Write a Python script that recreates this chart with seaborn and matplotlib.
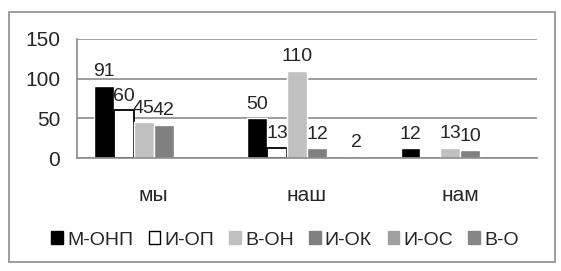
import numpy as np
import pandas as pd
import seaborn as sns
import matplotlib.pyplot as plt
from matplotlib.patches import Patch, Rectangle

categories = ['мы', 'наш', 'нам']
series = ['М-ОНП', 'И-ОП', 'В-ОН', 'И-ОК', 'И-ОС', 'В-О']
m_onp = [91, 50, 12]
i_op = [60, 13, np.nan]
v_on = [45, 110, 13]
i_ok = [42, 12, 10]
i_os = [np.nan, np.nan, np.nan]
v_o = [np.nan, 2, np.nan]

colors = ['#000000', '#ffffff', '#c0c0c0', '#808080', '#a0a0a0', '#868686']

rows = []
for name, vals in zip(series, [m_onp, i_op, v_on, i_ok, i_os, v_o]):
    for cat, v in zip(categories, vals):
        rows.append({'cat': cat, 'series': name, 'value': v})
df = pd.DataFrame(rows).dropna()

sns.set_style('white')
plt.rcParams['font.family'] = ['Liberation Sans', 'DejaVu Sans']

fig = plt.figure(figsize=(5.61, 2.71), dpi=100)
fig.patches.append(Rectangle((9 / 561, 1 - 262 / 271), 546 / 561, 250 / 271,
                             transform=fig.transFigure, fill=False,
                             edgecolor='#8c8c8c', linewidth=1.2))
ax = fig.add_axes([77 / 561, 1 - 158 / 271, 460 / 561, 119 / 271])

sns.barplot(data=df, x='cat', y='value', hue='series', order=categories,
            hue_order=series, palette=dict(zip(series, colors)),
            width=0.78, saturation=1, errorbar=None, legend=False, ax=ax)

for cont in ax.containers:
    for bar in cont:
        if bar.get_facecolor()[:3] == (1.0, 1.0, 1.0):
            bar.set_edgecolor('black')
            bar.set_linewidth(1.3)
    ax.bar_label(cont, fmt='%d', fontsize=14, padding=4)

ax.set_ylim(0, 150)
ax.set_yticks([0, 50, 100, 150])
ax.set_xlim(-0.5, 2.5)
ax.yaxis.grid(True, color='#8c8c8c', linewidth=1.2)
ax.set_axisbelow(True)
for s in ['top', 'right']:
    ax.spines[s].set_visible(False)
ax.spines['left'].set_color('#8c8c8c')
ax.spines['bottom'].set_color('#8c8c8c')
ax.spines['left'].set_linewidth(1.2)
ax.spines['bottom'].set_linewidth(1.2)
ax.tick_params(axis='y', length=8, color='#8c8c8c', width=1.2, labelsize=15, pad=4)
ax.set_xticks([0, 1, 2])
ax.set_xticklabels(categories)
ax.tick_params(axis='x', length=0, labelsize=15, pad=20)
ax.set_xticks([-0.5, 0.5, 1.5, 2.5], minor=True)
ax.tick_params(axis='x', which='minor', length=6, color='#8c8c8c', width=1.2)
ax.set_xlabel('')
ax.set_ylabel('')

handles = [Patch(facecolor=c, edgecolor='black' if c == '#ffffff' else c, linewidth=1)
           for c in colors]
fig.legend(handles, series, loc='center', bbox_to_anchor=(285 / 561, 1 - 240 / 271),
           ncol=6, frameon=False, fontsize=14, handlelength=0.6, handleheight=0.6,
           handletextpad=0.2, columnspacing=0.8, borderaxespad=0)

fig.savefig('out.png', dpi=100)
